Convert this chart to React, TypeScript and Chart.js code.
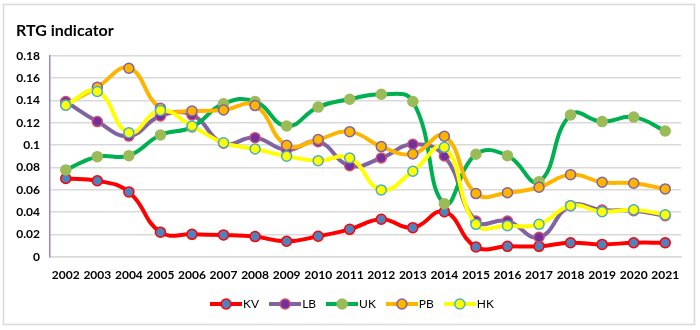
import React, { useEffect, useRef } from "react";
import { Chart, registerables } from "chart.js";

Chart.register(...registerables);

const years = ["2002","2003","2004","2005","2006","2007","2008","2009","2010","2011","2012","2013","2014","2015","2016","2017","2018","2019","2020","2021"];
const KV = [0.070,0.068,0.058,0.022,0.020,0.0195,0.018,0.0138,0.0183,0.0245,0.0335,0.026,0.0403,0.0087,0.0093,0.0093,0.0125,0.011,0.0125,0.0125];
const LB = [0.139,0.121,0.108,0.126,0.127,0.1016,0.1066,0.0956,0.103,0.0815,0.0884,0.1007,0.0902,0.032,0.032,0.0174,0.0457,0.0418,0.0412,0.0367];
const UK = [0.0777,0.0896,0.0905,0.109,0.116,0.137,0.139,0.117,0.134,0.141,0.1455,0.139,0.0475,0.0917,0.0905,0.0672,0.127,0.121,0.125,0.1126];
const PB = [0.136,0.1518,0.1688,0.133,0.1305,0.1314,0.1353,0.0998,0.105,0.112,0.0986,0.092,0.1079,0.0565,0.0573,0.0622,0.0735,0.0667,0.0658,0.0607];
const HK = [0.1357,0.148,0.111,0.131,0.117,0.102,0.0965,0.090,0.086,0.0884,0.0598,0.0765,0.098,0.029,0.0278,0.029,0.0457,0.0403,0.042,0.0376];
const yTicks = [0, 0.02, 0.04, 0.06, 0.08, 0.1, 0.12, 0.14, 0.16, 0.18];

const seriesNames = ["KV", "LB", "UK", "PB", "HK"];
const seriesData = [KV, LB, UK, PB, HK];
const lineColors = ["#FF0000", "#8064A2", "#00B050", "#FFB400", "#FFFF00"];
const pointFills = ["#4F81BD", "#7030A0", "#9BBB59", "#FFB400", "#FFFF00"];
const pointBorders = ["#FF0000", "#D0506A", "#9BBB59", "#8064A2", "#4BACC6"];

function legendIcon(i: number): HTMLCanvasElement {
  const c = document.createElement("canvas");
  c.width = 32;
  c.height = 12;
  const ctx = c.getContext("2d")!;
  ctx.strokeStyle = lineColors[i];
  ctx.lineWidth = 4;
  ctx.beginPath();
  ctx.moveTo(0, 6);
  ctx.lineTo(32, 6);
  ctx.stroke();
  ctx.beginPath();
  ctx.arc(16, 6, 5, 0, Math.PI * 2);
  ctx.fillStyle = pointFills[i];
  ctx.fill();
  ctx.lineWidth = 1.5;
  ctx.strokeStyle = pointBorders[i];
  ctx.stroke();
  return c;
}

const framePlugin = {
  id: "frame",
  afterLayout(chart: any) {
    const lg = chart.legend;
    if (lg) {
      lg.left += 6;
      lg.right += 6;
    }
  },
  beforeDraw(chart: any) {
    const ctx = chart.ctx;
    ctx.save();
    ctx.fillStyle = "#FFFFFF";
    ctx.fillRect(0, 0, chart.width, chart.height);
    ctx.strokeStyle = "#D9D9D9";
    ctx.lineWidth = 1.5;
    ctx.strokeRect(3.5, 4.5, 691, 320);
    ctx.restore();
  },
};

export default function App() {
  const ref = useRef<HTMLCanvasElement>(null);
  useEffect(() => {
    if (!ref.current) return;
    const icons = seriesNames.map((_, i) => legendIcon(i));
    const chart = new Chart(ref.current, {
      type: "line",
      data: {
        labels: years,
        datasets: seriesNames.map((name, i) => ({
          label: name,
          data: seriesData[i],
          borderColor: lineColors[i],
          backgroundColor: pointFills[i],
          borderWidth: 4,
          tension: 0.45,
          pointRadius: 5,
          pointBorderWidth: 1.5,
          pointBackgroundColor: pointFills[i],
          pointBorderColor: pointBorders[i],
          order: seriesNames.length - i,
          fill: false,
        })),
      },
      options: {
        animation: false,
        responsive: false,
        maintainAspectRatio: false,
        layout: { padding: { left: 16, right: 19, top: 0, bottom: 10 } },
        plugins: {
          tooltip: { enabled: false },
          title: {
            display: true,
            text: "RTG indicator",
            align: "start",
            color: "#000000",
            font: { family: "Lato", size: 16, weight: "bold" },
            padding: { top: 21, bottom: 15.5 },
          },
          legend: {
            display: true,
            position: "bottom",
            labels: {
              usePointStyle: true,
              pointStyleWidth: 22,
              color: "#000000",
              font: { family: "Lato", size: 12 },
              padding: 15,
              generateLabels: () =>
                seriesNames.map((name, i) => ({
                  text: name,
                  pointStyle: icons[i],
                  fillStyle: pointFills[i],
                  strokeStyle: lineColors[i],
                  lineWidth: 0,
                  hidden: false,
                  datasetIndex: i,
                })),
            },
          },
        },
        scales: {
          x: {
            offset: true,
            grid: { display: false, drawTicks: false },
            border: { display: true, color: "#D9D9D9", width: 1.5 },
            ticks: {
              color: "#000000",
              font: { family: "Lato", size: 12, weight: "bold" },
              padding: 11,
              maxRotation: 0,
              autoSkip: false,
            },
            afterFit: (s: any) => { s.height = 26.3; },
          },
          y: {
            min: 0,
            max: 0.18,
            afterBuildTicks: (s: any) => { s.ticks = yTicks.map((v) => ({ value: v })); },
            grid: { color: "#D9D9D9", lineWidth: 1.5, drawTicks: false },
            border: { display: true, color: "#9A86C2", width: 1.5 },
            ticks: {
              color: "#000000",
              font: { family: "Lato", size: 12, weight: "bold" },
              padding: 10,
              callback: (v: any) => String(Number(Number(v).toFixed(2))),
            },
            afterFit: (s: any) => { s.width = 34; },
          },
        },
      },
      plugins: [framePlugin],
    });
    return () => chart.destroy();
  }, []);
  return (
    <div style={{ position: "fixed", left: 0, top: 0, width: 700, height: 330, background: "#fff" }}>
      <canvas ref={ref} width={700} height={330} style={{ display: "block", width: 700, height: 330 }} />
    </div>
  );
}
